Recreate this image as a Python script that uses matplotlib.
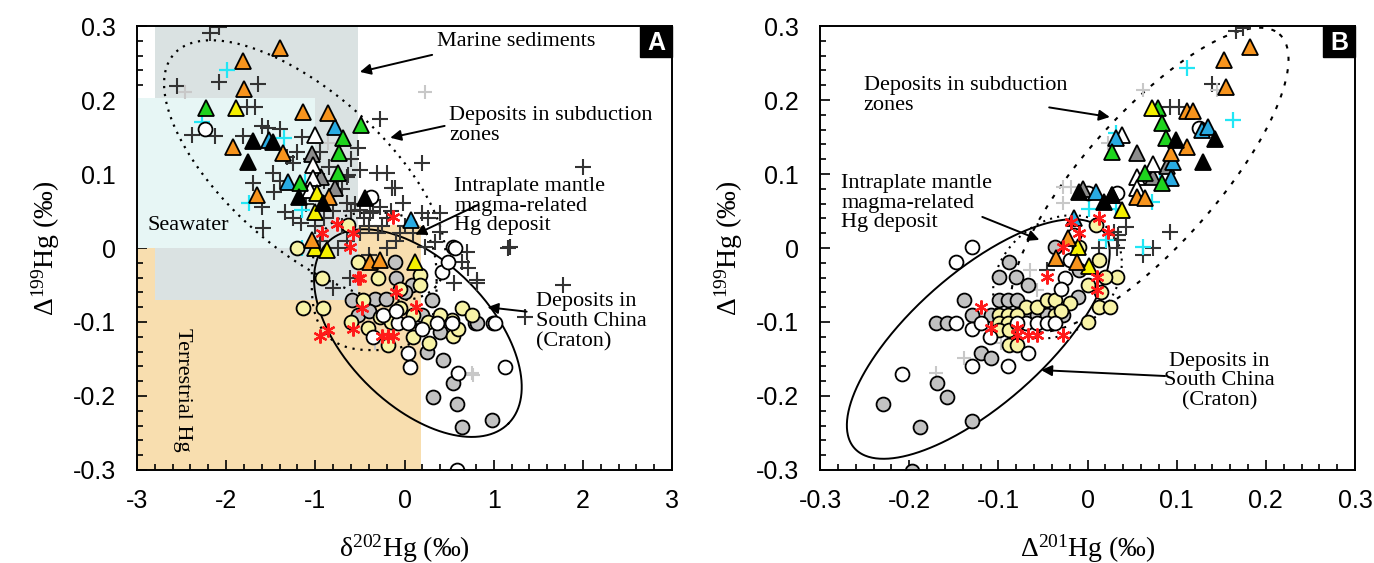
import numpy as np
import matplotlib
matplotlib.use("Agg")
import matplotlib.pyplot as plt
from matplotlib.patches import Rectangle
from matplotlib.ticker import MultipleLocator, FormatStrFormatter

plt.rcParams['font.family'] = ['Liberation Serif', 'DejaVu Serif']
plt.rcParams['mathtext.fontset'] = 'custom'
plt.rcParams['mathtext.rm'] = 'Liberation Serif'
plt.rcParams['mathtext.it'] = 'Liberation Serif:italic'

# ---- panel A data (d202Hg, D199Hg) ----
a_plus_dark = [(-2.18, 0.291), (-2.08, 0.298), (-2.08, 0.224), (-1.64, 0.222), (-2.55, 0.219),
               (-1.77, 0.191), (-1.68, 0.191), (-2.38, 0.153), (-2.13, 0.151), (-1.81, 0.151),
               (-1.60, 0.165), (-1.53, 0.162), (-1.40, 0.161), (-1.15, 0.150), (-1.32, 0.123),
               (-1.25, 0.115), (-1.48, 0.101), (-0.52, 0.135), (-0.27, 0.174), (-0.31, 0.101),
               (-0.20, 0.101), (0.20, 0.115), (-0.63, 0.099), (-0.11, 0.081), (-1.70, 0.088),
               (-1.46, 0.076), (-1.34, 0.049), (-1.60, 0.055), (-1.59, 0.027), (-1.16, 0.034),
               (-0.65, 0.061), (-0.50, 0.051), (-0.39, 0.047), (-0.02, 0.061), (0.20, 0.047),
               (-0.50, 0.105), (-0.14, 0.081), (-0.65, 0.096), (-0.35, 0.065), (-0.28, 0.056),
               (0.40, 0.047), (0.26, 0.041), (0.70, -0.005), (1.18, 0.001), (0.23, 0.001),
               (1.35, -0.093), (0.81, -0.047), (1.78, -0.050), (0.55, -0.047), (2.00, 0.109),
               (-1.0, 0.03), (-0.9, 0.04), (-0.8, 0.05), (-0.7, 0.03), (-0.6, 0.05), (-0.5, 0.02),
               (-0.4, 0.03), (-0.3, 0.02), (-0.2, 0.04), (-0.1, 0.01), (0.0, 0.03), (-0.85, 0.07),
               (-0.7, 0.08), (-0.55, 0.06), (-0.45, 0.04), (-0.35, 0.05), (-0.25, 0.03),
               (-0.15, 0.05), (-0.05, 0.02), (-1.1, 0.06), (-0.95, 0.01), (-0.65, 0.01),
               (-0.4, -0.01), (-0.2, 0.0), (0.1, 0.02), (-1.25, 0.04), (-0.75, 0.0),
               (-1.05, 0.12), (-0.95, 0.13), (-0.85, 0.11), (-1.2, 0.13), (-0.9, 0.09),
               (-1.4, 0.09), (-0.6, 0.12), (-0.75, 0.09), (-0.80, -0.054), (-0.61, -0.041),
               (0.64, -0.019), (0.71, -0.027), (0.81, -0.043), (1.16, 0.0), (0.34, 0.008),
               (0.40, 0.022)]
a_plus_light = [(-2.46, 0.211), (0.23, 0.211), (-0.86, 0.142), (0.77, -0.172), (0.76, -0.169),
                (-0.33, -0.128)]
a_plus_cyan = [(-1.99, 0.241), (-2.27, 0.170), (-1.35, 0.149), (-1.12, 0.089), (-1.74, 0.061),
               (-1.15, 0.051), (-1.15, 0.0)]
a_circ_white = [(-2.24, 0.161), (-0.38, 0.069), (0.54, 0.001), (0.42, -0.032), (0.49, -0.019),
                (0.57, 0.0), (-0.24, -0.091), (-0.07, -0.101), (0.04, -0.101), (0.37, -0.101),
                (0.53, -0.101), (0.99, -0.101), (0.04, -0.142), (0.60, -0.169), (1.13, -0.161),
                (1.01, -0.101), (0.06, -0.161), (0.59, -0.30), (-0.10, -0.085), (0.20, -0.11),
                (-0.35, -0.12)]
a_circ_gray = [(-0.11, -0.019), (-0.09, -0.041), (0.08, -0.050), (-0.59, -0.070), (-0.33, -0.069),
               (-0.21, -0.069), (0.31, -0.070), (-0.52, -0.091), (0.15, -0.093), (0.79, -0.101),
               (0.40, -0.113), (0.43, -0.151), (0.81, -0.101), (0.25, -0.141), (0.54, -0.182),
               (0.32, -0.201), (0.59, -0.211), (0.65, -0.242), (0.98, -0.232), (0.0, -0.06),
               (-0.4, -0.085), (0.2, -0.09)]
a_circ_yellow = [(-0.63, 0.031), (-1.21, 0.0), (-0.52, -0.019), (-0.93, -0.041), (0.17, -0.036),
                 (0.17, -0.050), (-1.14, -0.081), (-0.91, -0.081), (-0.47, -0.070), (-0.05, -0.081),
                 (-0.28, -0.093), (-0.41, -0.108), (0.26, -0.100), (0.53, -0.097), (0.65, -0.081),
                 (0.76, -0.091), (0.09, -0.120), (0.54, -0.119), (-0.19, -0.131), (0.28, -0.128),
                 (-0.15, -0.10), (0.10, -0.09), (0.40, -0.09), (-0.60, -0.10), (-0.30, -0.04),
                 (0.60, -0.11), (-0.05, -0.055)]
a_tri_orange = [(-1.40, 0.270), (-1.81, 0.253), (-1.80, 0.215), (-1.14, 0.184), (-0.86, 0.182),
                (-1.92, 0.137), (-1.36, 0.128), (-0.85, 0.069), (-1.65, 0.072), (-0.39, -0.019),
                (-0.28, -0.016), (-1.04, 0.011)]
a_tri_green = [(-2.23, 0.189), (-0.49, 0.166), (-0.69, 0.149), (-0.74, 0.128), (-0.75, 0.101),
               (-1.17, 0.088)]
a_tri_yellow = [(-1.89, 0.189), (-0.98, 0.074), (-1.00, 0.049), (-1.00, 0.000), (-0.87, -0.003),
                (0.12, -0.019)]
a_tri_cyan = [(-0.78, 0.164), (-1.52, 0.146), (-1.31, 0.089), (0.07, 0.038)]
a_tri_black = [(-1.70, 0.145), (-1.48, 0.143), (-1.76, 0.116), (-1.18, 0.069), (-0.91, 0.061),
               (-0.44, 0.068)]
a_tri_gray = [(-1.04, 0.127), (-0.94, 0.096), (-0.78, 0.081)]
a_tri_white = [(-1.00, 0.153), (-1.03, 0.112), (-1.03, 0.095), (-1.06, 0.078)]
a_star = [(-0.13, 0.042), (-0.76, 0.032), (-0.93, 0.020), (-0.58, 0.020), (-0.61, 0.001),
          (-0.52, -0.041), (-0.50, -0.041), (-0.09, -0.059), (0.13, -0.080), (-0.48, -0.081),
          (-0.86, -0.111), (-0.95, -0.119), (-0.58, -0.109), (-0.25, -0.119), (-0.13, -0.119),
          (-0.19, -0.119)]

# ---- panel B data (D201Hg, D199Hg) ----
b_plus_dark = [(0.167, 0.293), (0.174, 0.297), (0.140, 0.222), (0.093, 0.191), (0.103, 0.191),
               (0.043, 0.028), (0.030, 0.022), (0.093, 0.022), (0.073, 0.000), (0.034, 0.011),
               (0.062, -0.009), (0.013, 0.000), (-0.046, -0.030), (0.034, 0.018), (0.033, 0.0)]
b_plus_light = [(0.062, 0.214), (0.023, 0.142), (-0.028, 0.082), (-0.018, 0.082), (-0.028, 0.061),
                (-0.065, -0.030), (-0.057, -0.057), (-0.138, -0.149), (-0.170, -0.169),
                (-0.097, -0.128), (0.145, 0.213)]
b_plus_cyan = [(0.112, 0.243), (0.163, 0.173), (0.072, 0.062), (0.002, 0.053), (0.032, 0.053),
               (0.062, 0.001), (0.021, 0.011), (0.081, 0.089), (0.032, 0.155)]
b_circ_white = [(-0.129, 0.001), (-0.148, -0.019), (-0.020, -0.016), (-0.015, 0.018),
                (-0.148, -0.101), (-0.129, -0.110), (-0.119, -0.101), (-0.069, -0.101),
                (-0.057, -0.101), (-0.046, -0.101), (-0.037, -0.101), (-0.079, -0.101),
                (-0.109, -0.120), (-0.067, -0.142), (-0.129, -0.159), (-0.089, -0.159),
                (-0.208, -0.170), (0.125, 0.162), (0.000, 0.074), (0.033, 0.074),
                (-0.025, -0.040), (-0.030, -0.055)]
b_circ_gray = [(-0.088, -0.019), (-0.099, -0.039), (-0.080, -0.039), (-0.067, -0.050),
               (-0.037, 0.001), (-0.139, -0.070), (-0.099, -0.070), (-0.089, -0.070),
               (-0.079, -0.070), (-0.129, -0.091), (-0.108, -0.091), (-0.067, -0.091),
               (-0.057, -0.091), (-0.046, -0.091), (-0.027, -0.091), (-0.170, -0.101),
               (-0.158, -0.101), (-0.011, -0.066), (-0.119, -0.142), (-0.108, -0.149),
               (-0.169, -0.182), (-0.158, -0.201), (-0.229, -0.211), (-0.188, -0.242),
               (-0.129, -0.234), (-0.197, -0.301), (-0.010, -0.030)]
b_circ_yellow = [(-0.069, -0.080), (-0.057, -0.080), (-0.046, -0.070), (-0.037, -0.070),
                 (-0.099, -0.091), (-0.089, -0.091), (-0.079, -0.091), (-0.037, -0.091),
                 (-0.099, -0.101), (-0.089, -0.101), (-0.099, -0.111), (-0.088, -0.111),
                 (-0.088, -0.131), (-0.079, -0.131), (-0.009, 0.001), (0.013, -0.016),
                 (0.033, -0.039), (0.013, -0.080), (0.025, -0.080), (0.010, 0.031),
                 (0.020, -0.039), (0.015, -0.060), (0.000, -0.050), (-0.020, -0.075),
                 (-0.030, -0.085), (0.000, -0.100)]
b_tri_orange = [(0.182, 0.272), (0.153, 0.254), (0.155, 0.218), (0.111, 0.185), (0.118, 0.185),
                (0.111, 0.136), (0.094, 0.128), (0.056, 0.069), (0.064, 0.068), (-0.022, 0.014),
                (-0.035, -0.014), (-0.012, -0.019)]
b_tri_green = [(0.079, 0.189), (0.083, 0.169), (0.088, 0.149), (0.027, 0.130), (0.064, 0.101),
               (0.083, 0.088)]
b_tri_yellow = [(0.072, 0.189), (0.027, 0.072), (0.039, 0.051), (-0.011, 0.001), (0.002, -0.024)]
b_tri_cyan = [(0.128, 0.159), (0.135, 0.164), (0.032, 0.149), (0.096, 0.116), (0.094, 0.095),
              (0.009, 0.076), (-0.015, 0.041)]
b_tri_black = [(0.099, 0.146), (0.143, 0.147), (0.130, 0.116), (-0.009, 0.076), (0.018, 0.062),
               (0.027, 0.072)]
b_tri_gray = [(0.056, 0.128), (0.089, 0.111), (0.073, 0.096), (-0.005, 0.080)]
b_tri_white = [(0.039, 0.153), (0.073, 0.114), (0.055, 0.096), (0.056, 0.081)]
b_star = [(-0.018, 0.035), (-0.009, 0.020), (0.013, 0.041), (0.023, 0.022), (-0.028, 0.001),
          (-0.046, -0.039), (0.011, -0.039), (0.011, -0.057), (-0.119, -0.080), (-0.108, -0.108),
          (-0.079, -0.108), (-0.079, -0.117), (-0.067, -0.117), (-0.057, -0.117),
          (-0.028, -0.117)]

# field outlines: centre, axis vector 1, axis vector 2 (data units)
a_subduction = ((-1.117, 0.105), (1.469, -0.157), (-0.580, -0.079))
a_intraplate = ((-0.34, -0.045), (0.70, 0.0), (0.0, 0.093))
a_craton = ((0.150, -0.115), (1.015, -0.1223), (-0.571, -0.0688))
b_subduction = ((0.0697, 0.0919), (0.1455, 0.1971), (0.0555, -0.0592))
b_intraplate = ((-0.0337, -0.039), (0.0602, 0.0608), (0.0398, -0.0569))
b_craton = ((-0.1225, -0.123), (0.139, 0.1474), (0.049, -0.0669))

ORANGE = '#F7941D'
GREEN = '#1ED41E'
YELLOW = '#F5F000'
CYAN_T = '#29ABE2'
GRAY_T = '#8C8C8C'
GRAY_C = '#C2C2C2'
YEL_C = '#F8F3A6'


def outline(ax, shape, p=1.0, **kw):
    (cx, cy), (ux, uy), (vx, vy) = shape
    t = np.linspace(0, 2 * np.pi, 400)
    c = np.sign(np.cos(t)) * np.abs(np.cos(t)) ** p
    s = np.sign(np.sin(t)) * np.abs(np.sin(t)) ** p
    ax.plot(cx + ux * c + vx * s, cy + uy * c + vy * s, color='black', zorder=3, **kw)


def pts(ax, data, marker, size, fc, ec='black', mew=1.3, z=4):
    x = [d[0] for d in data]
    y = [d[1] for d in data]
    ax.plot(x, y, ls='none', marker=marker, ms=size, mfc=fc, mec=ec, mew=mew, zorder=z)


def draw_points(ax, pd_, pl, pc, cw, cg, cy, to, tg, ty, tc, tb, tgr, tw, st):
    pts(ax, pd_, '+', 11, 'none', '#333333', 1.5, 4)
    pts(ax, pl, '+', 10, 'none', '#C8C8C8', 1.5, 4)
    pts(ax, pc, '+', 11, 'none', '#22E6F5', 1.6, 4)
    pts(ax, cg, 'o', 10, GRAY_C, z=5)
    pts(ax, cy, 'o', 10, YEL_C, z=5)
    pts(ax, cw, 'o', 10, 'white', z=5)
    for data, col in [(tgr, GRAY_T), (tw, 'white'), (tc, CYAN_T), (tg, GREEN),
                      (ty, YELLOW), (to, ORANGE), (tb, 'black')]:
        pts(ax, data, '^', 12, col, z=6)
    pts(ax, st, (6, 2, 0), 10, 'none', '#FF1A1A', 1.6, 7)


def style_axes(ax, major_x, minor_x, xlim):
    ax.set_xlim(*xlim)
    ax.set_ylim(-0.3, 0.3)
    ax.xaxis.set_major_locator(MultipleLocator(major_x))
    ax.xaxis.set_minor_locator(MultipleLocator(minor_x))
    ax.yaxis.set_major_locator(MultipleLocator(0.1))
    ax.yaxis.set_minor_locator(MultipleLocator(0.02))
    ax.xaxis.set_major_formatter(FormatStrFormatter('%g'))
    ax.yaxis.set_major_formatter(FormatStrFormatter('%g'))
    ax.tick_params(which='both', direction='in', top=False, right=False, width=1.2)
    ax.tick_params(which='major', length=7, labelsize=18, labelfontfamily='Liberation Sans')
    ax.tick_params(axis='x', which='major', pad=14)
    ax.tick_params(axis='y', which='major', pad=15)
    ax.tick_params(which='minor', length=4)
    for sp in ax.spines.values():
        sp.set_linewidth(1.4)
        sp.set_zorder(10)
    ax.set_ylabel('Δ$^{199}$Hg (‰)', fontsize=20, labelpad=8)


def note(ax, x, y, s, tail, head, ha='left'):
    ax.text(x, y, s, fontsize=16, ha=ha, va='top', linespacing=1.05, zorder=9)
    ax.annotate('', xy=head, xytext=tail,
                arrowprops=dict(arrowstyle='-|>', color='black', lw=1.4,
                                mutation_scale=16, shrinkA=0, shrinkB=0), zorder=9)


def badge(ax, s):
    ax.add_patch(Rectangle((0.94, 0.93), 0.06, 0.07, transform=ax.transAxes,
                           fc='black', ec='black', zorder=11, clip_on=False))
    ax.text(0.97, 0.962, s, transform=ax.transAxes, ha='center', va='center', color='white',
            fontsize=18, fontweight='bold', family='Liberation Sans', zorder=12)


fig = plt.figure(figsize=(13.74, 5.63), dpi=100)
axA = fig.add_axes([0.0997, 0.1652, 0.3894, 0.7886])
axB = fig.add_axes([0.5968, 0.1652, 0.3894, 0.7886])

# ---- panel A ----
axA.add_patch(Rectangle((-3, -0.3), 3.18, 0.331, fc='#F8DEAF', ec='none', zorder=0))
axA.add_patch(Rectangle((-2.8, -0.07), 2.28, 0.37, fc='#DAE2E2', ec='none', zorder=1))
axA.add_patch(Rectangle((-3, 0.0), 2.0, 0.203, fc='#E7F6F5', ec='none', zorder=2))
outline(axA, a_subduction, lw=1.6, ls=(0, (1, 2.6)))
outline(axA, a_intraplate, p=0.75, lw=1.6, ls=(0, (1, 2.6)))
outline(axA, a_craton, lw=1.4)
draw_points(axA, a_plus_dark, a_plus_light, a_plus_cyan, a_circ_white, a_circ_gray, a_circ_yellow,
            a_tri_orange, a_tri_green, a_tri_yellow, a_tri_cyan, a_tri_black, a_tri_gray,
            a_tri_white, a_star)
style_axes(axA, 1, 0.2, (-3, 3))
axA.set_xlabel('δ$^{202}$Hg (‰)', fontsize=20, labelpad=14)
axA.text(-2.88, 0.031, 'Seawater', fontsize=16, va='center', zorder=9)
axA.text(-2.49, -0.192, 'Terrestrial Hg', fontsize=16, rotation=-90, ha='center', va='center', zorder=9)
note(axA, 0.37, 0.292, 'Marine sediments', (0.31, 0.261), (-0.50, 0.238))
note(axA, 0.50, 0.192, 'Deposits in subduction\nzones', (0.45, 0.165), (-0.16, 0.149))
note(axA, 0.56, 0.096, 'Intraplate mantle\nmagma-related\nHg deposit', (0.82, 0.058), (0.12, 0.018))
note(axA, 1.48, -0.060, 'Deposits in\nSouth China\n(Craton)', (1.37, -0.086), (0.93, -0.080))
badge(axA, 'A')

# ---- panel B ----
outline(axB, b_subduction, lw=1.5, ls=(0, (2, 4)))
outline(axB, b_intraplate, lw=1.5, ls=(0, (1, 2.5)))
outline(axB, b_craton, lw=1.4)
draw_points(axB, b_plus_dark, b_plus_light, b_plus_cyan, b_circ_white, b_circ_gray, b_circ_yellow,
            b_tri_orange, b_tri_green, b_tri_yellow, b_tri_cyan, b_tri_black, b_tri_gray,
            b_tri_white, b_star)
style_axes(axB, 0.1, 0.02, (-0.3, 0.3))
axB.set_xlabel('Δ$^{201}$Hg (‰)', fontsize=20, labelpad=14)
note(axB, -0.251, 0.232, 'Deposits in subduction\nzones', (-0.043, 0.190), (0.025, 0.177))
note(axB, -0.276, 0.100, 'Intraplate mantle\nmagma-related\nHg deposit', (-0.118, 0.042), (-0.054, 0.011))
note(axB, 0.148, -0.140, 'Deposits in\nSouth China\n(Craton)', (0.087, -0.173), (-0.052, -0.165), ha='center')
badge(axB, 'B')

fig.savefig('out.png', dpi=100)
